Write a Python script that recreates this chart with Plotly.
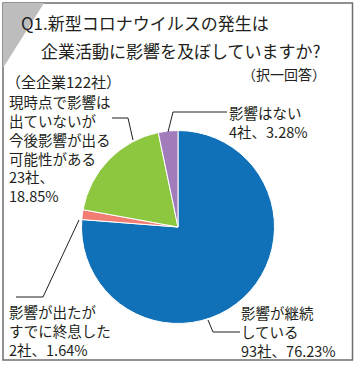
import plotly.graph_objects as go

W, H = 358, 365

# ---- data ----
categories = ["影響が継続している", "影響が出たがすでに終息した",
              "現時点で影響は出ていないが今後影響が出る可能性がある", "影響はない"]
counts = [93, 2, 23, 4]
percents = [76.23, 1.64, 18.85, 3.28]
colors = ["#1071B8", "#F27D72", "#8DC63F", "#A27BBB"]

title_lines = ["Q1.新型コロナウイルスの発生は", "企業活動に影響を及ぼしていますか?"]
note_text = "（択一回答）"
total_text = "（全企業122社）"
label_lines = [
    ["影響が継続", "している", f"{counts[0]}社、{percents[0]:.2f}%"],
    ["影響が出たが", "すでに終息した", f"{counts[1]}社、{percents[1]:.2f}%"],
    ["現時点で影響は", "出ていないが", "今後影響が出る", "可能性がある", f"{counts[2]}社、", f"{percents[2]:.2f}%"],
    ["影響はない", f"{counts[3]}社、{percents[3]:.2f}%"],
]

FONT = "Noto Sans CJK JP"
TXT = "#231F20"

def px(x):
    return x / W

def py(y):
    return 1 - y / H

# pie geometry (pixels)
cx, cy, r = 178, 227, 96.5

fig = go.Figure(go.Pie(
    labels=categories, values=counts, sort=False, direction="clockwise", rotation=0,
    marker=dict(colors=colors, line=dict(color="white", width=1)),
    textinfo="none", hoverinfo="label+percent", showlegend=False,
    domain=dict(x=[px(cx - r), px(cx + r)], y=[py(cy + r), py(cy - r)]),
))

shapes = []
# frame
shapes.append(dict(type="rect", xref="paper", yref="paper", x0=px(3), x1=px(352.5), y0=py(360), y1=py(3),
                   line=dict(color="#6E6E6E", width=1.5)))
# corner triangle
shapes.append(dict(type="path", xref="paper", yref="paper",
                   path=f"M {px(3)} {py(3)} L {px(44)} {py(3)} L {px(3)} {py(68)} Z",
                   fillcolor="#BDBDBD", line=dict(width=0)))

# leader lines (pixel polylines)
leaders = [
    [(208, 320), (213, 332), (240, 332)],
    [(79, 220), (43, 297), (16, 297)],
    [(133, 140), (128, 118), (112, 118)],
    [(168, 132), (173, 112), (227, 112)],
]
for pts in leaders:
    path = "M " + " L ".join(f"{px(x)} {py(y)}" for x, y in pts)
    shapes.append(dict(type="path", xref="paper", yref="paper", path=path,
                       line=dict(color="#231F20", width=1)))

annotations = []

def add_text(x, y, text, size):
    annotations.append(dict(x=px(x), y=py(y), xref="paper", yref="paper", text=text,
                            showarrow=False, xanchor="left", yanchor="middle", align="left",
                            borderpad=0,
                            font=dict(family=FONT, size=size, color=TXT)))

add_text(20, 23, title_lines[0], 17)
add_text(40, 51, title_lines[1], 17)
add_text(241, 74, note_text, 14)
add_text(5, 82, total_text, 15)

label_mid = [(240, 331), (8, 330), (8, 148), (228, 122)]
for lines, (x0, y0) in zip(label_lines, label_mid):
    add_text(x0, y0, "<br>".join(lines), 14.5)

fig.update_layout(
    width=W, height=H, margin=dict(l=0, r=0, t=0, b=0),
    paper_bgcolor="white", plot_bgcolor="white",
    shapes=shapes, annotations=annotations,
)

fig.write_html("out.html", config={"displayModeBar": False},
               post_script="document.body.style.margin='0px';document.body.style.overflow='hidden';")
